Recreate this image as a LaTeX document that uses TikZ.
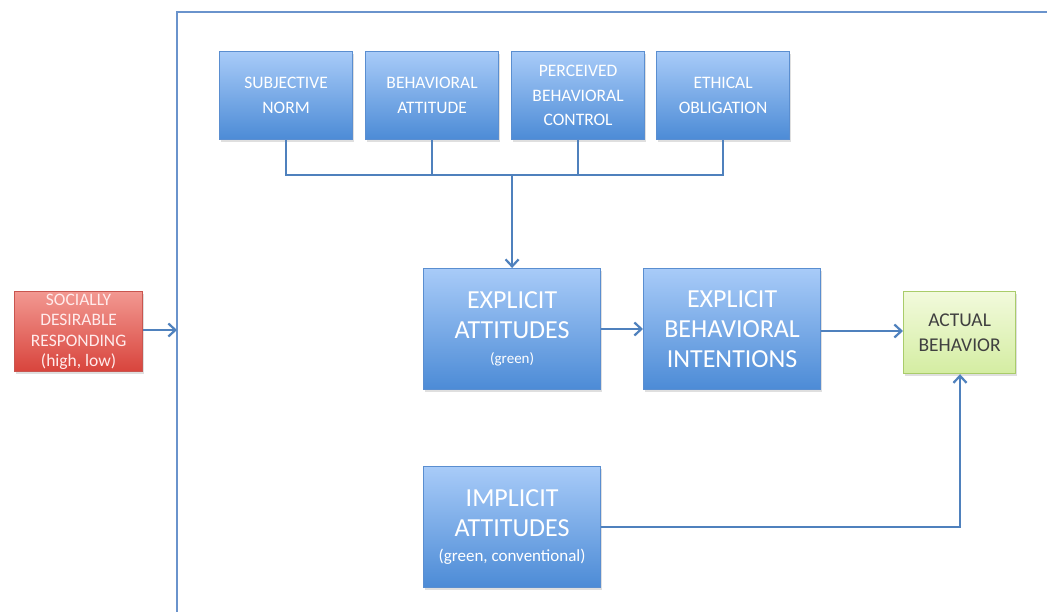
\documentclass[tikz,border=0pt]{standalone}
\usepackage{fontspec}
\setmainfont{Carlito}
\usetikzlibrary{arrows.meta,shadows,calc}
\definecolor{lineblue}{HTML}{4F81BD}
\definecolor{frameblue}{HTML}{6A93CC}
\definecolor{boxtop}{HTML}{A8CBF8}
\definecolor{boxbot}{HTML}{4C8BD6}
\definecolor{boxedge}{HTML}{5A8ED0}
\definecolor{redtop}{HTML}{F29891}
\definecolor{redbot}{HTML}{D8443C}
\definecolor{rededge}{HTML}{C9554F}
\definecolor{greentop}{HTML}{F2FADC}
\definecolor{greenbot}{HTML}{D4EDA2}
\definecolor{greenedge}{HTML}{A9CC6A}
\newcommand\notefont{\fontsize{15}{18}\selectfont}
\newcommand\widenotefont{\fontsize{17}{18}\selectfont}
\tikzset{
  x=1pt, y=-1pt,
  basebox/.style={draw, line width=1.2pt, anchor=north west, inner sep=0pt,
    align=center, drop shadow={shadow xshift=1.5pt, shadow yshift=-2pt, opacity=0.25}},
  bluebox/.style={basebox, draw=boxedge, top color=boxtop, bottom color=boxbot,
    text=white},
  smallbox/.style={bluebox, minimum width=133pt, minimum height=88pt,
    font=\fontsize{17.5}{24.5}\selectfont},
  bigbox/.style={bluebox, minimum width=177pt, minimum height=121pt,
    font=\fontsize{26}{30}\selectfont},
  redbox/.style={basebox, draw=rededge, top color=redtop, bottom color=redbot,
    text=white!92!red, minimum width=128pt, minimum height=80pt,
    font=\fontsize{17.5}{20.5}\selectfont},
  greenbox/.style={basebox, draw=greenedge, top color=greentop, bottom color=greenbot,
    text=black!75, minimum width=112pt, minimum height=82pt,
    font=\fontsize{19.5}{25}\selectfont},
  conn/.style={draw=lineblue, line width=2.6pt},
  arr/.style={conn, -{Straight Barb[length=7pt,width=13pt,line width=2.2pt]}},
}
\begin{document}
\begin{tikzpicture}
\useasboundingbox (0,0) rectangle (1047,612);
\fill[white] (0,0) rectangle (1047,612);

% outer frame (left and top edges)
\draw[draw=frameblue, line width=1.8pt] (177,612) -- (177,12) -- (1047,12);
\coordinate (frameL) at (177,330);

% predictor boxes
\node[smallbox] (sn) at (219,51) {SUBJECTIVE\\NORM};
\node[smallbox] (ba) at (365,51) {BEHAVIORAL\\ATTITUDE};
\node[smallbox] (pbc) at (511,51) {PERCEIVED\\BEHAVIORAL\\CONTROL};
\node[smallbox] (eo) at (656,51) {ETHICAL\\OBLIGATION};

% main chain
\node[bigbox] (ea) at (423,268) {EXPLICIT\\ATTITUDES\\[-5pt]{\notefont (green)}};
\node[bigbox] (ebi) at (643,268) {EXPLICIT\\BEHAVIORAL\\INTENTIONS};
\node[bigbox] (ia) at (423,466) {IMPLICIT\\ATTITUDES\\[-5pt]{\widenotefont (green, conventional)}};
\node[greenbox] (ab) at (903,291) {ACTUAL\\BEHAVIOR};

% moderator
\node[redbox] (sdr) at (14,291) {SOCIALLY\\DESIRABLE\\RESPONDING\\(high, low)};

% bus joining the predictors
\coordinate (busL) at (sn.south |- 0,175);
\coordinate (busR) at (eo.south |- 0,175);
\coordinate (busM) at (ea.north |- 0,175);
\draw[conn] (sn.south) -- (busL) -- (busR) -- (eo.south);
\draw[conn] (ba.south) -- (ba.south |- busL);
\draw[conn] (pbc.south) -- (pbc.south |- busL);
\draw[arr] (busM) -- (ea.north);

% chain arrows
\draw[arr] (ea.east |- 0,329) -- (ebi.west |- 0,329);
\draw[arr] (ebi.east |- 0,331) -- (ab.west |- 0,331);
\coordinate (ibend) at (960,527);
\draw[arr] (ia.east |- ibend) -- (ibend) -- (ibend |- ab.south);
\draw[arr] (sdr.east |- frameL) -- (frameL);
\end{tikzpicture}
\end{document}
